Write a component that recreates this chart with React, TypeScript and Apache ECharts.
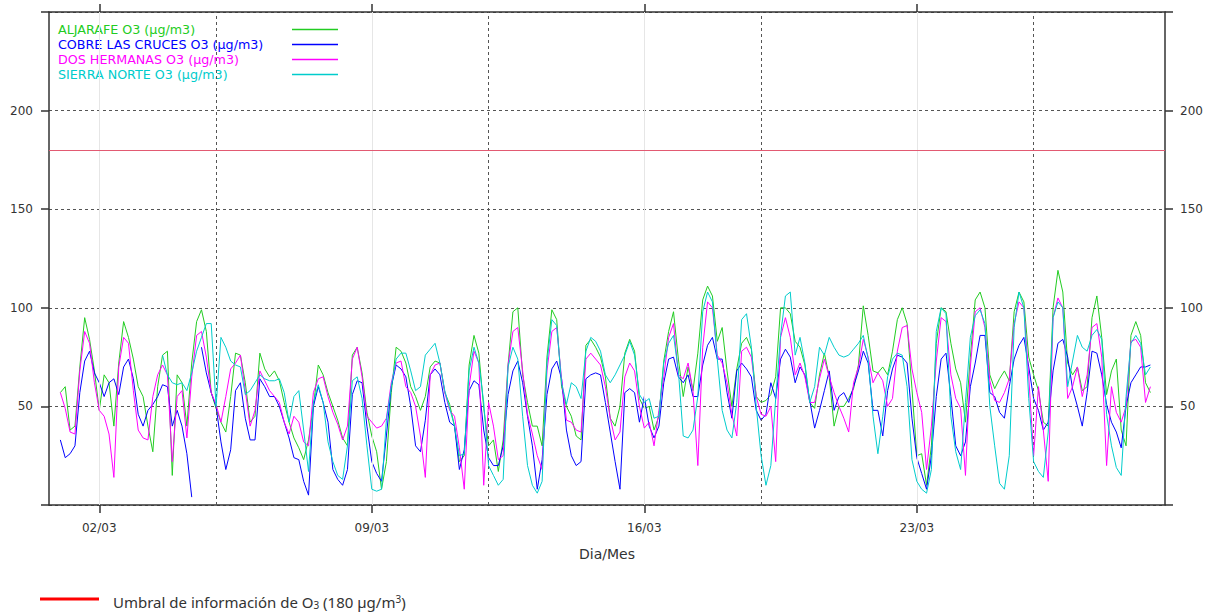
import React, { useEffect, useRef } from "react";
import * as echarts from "echarts";

// ---------- data ----------
const SERIES_NAMES = [
  "ALJARAFE O3 (µg/m3)",
  "COBRE LAS CRUCES O3 (µg/m3)",
  "DOS HERMANAS O3 (µg/m3)",
  "SIERRA NORTE O3 (µg/m3)",
];
const SERIES_COLORS = ["#22cc22", "#0000ff", "#ff00ff", "#00cccc"];

// hours counted from 01/03 00:00, one reading every 3 hours
const FIRST_HOUR = 0;
const STEP_HOURS = 3;
const MONTH = "03";

const aljarafe = [
  57, 60, 38, 40, 70, 95, 84, 68,
  48, 66, 62, 40, 72, 93, 85, 74,
  60, 55, 40, 27, 60, 76, 78, 15,
  66, 62, 40, 72, 93, 99, 88, 57,
  49, 42, 37, 55, 77, 76, 62, 42,
  45, 77, 69, 65, 68, 63, 52, 42,
  34, 29, 23, 33, 50, 71, 66, 57,
  50, 43, 34, 30, 76, 80, 67, 47,
  35, 27, 8, 22, 57, 80, 78, 72,
  60, 55, 48, 55, 70, 73, 72, 57,
  51, 40, 22, 25, 71, 86, 77, 49,
  30, 33, 17, 33, 71, 98, 100, 66,
  52, 40, 40, 30, 75, 99, 94, 60,
  50, 45, 35, 33, 81, 84, 80, 75,
  65, 44, 40, 50, 77, 84, 78, 54,
  49, 50, 38, 45, 73, 88, 98, 74,
  55, 70, 58, 77, 104, 111, 106, 83,
  90, 68, 50, 69, 82, 85, 79, 55,
  52, 53, 56, 65, 100, 100, 97, 83,
  80, 71, 52, 49, 66, 77, 65, 40,
  50, 50, 54, 59, 71, 101, 86, 68,
  67, 70, 66, 78, 94, 100, 92, 59,
  25, 26, 10, 30, 82, 100, 98, 82,
  69, 62, 42, 75, 104, 108, 100, 66,
  59, 64, 68, 63, 98, 108, 103, 75,
  66, 58, 42, 40, 100, 119, 108, 72,
  66, 70, 58, 60, 95, 106, 85, 56,
  68, 74, 38, 30, 86, 93, 86, 62,
  57,
];

const cobreLasCruces = [
  33, 24, 26, 30, 57, 73, 78, 67,
  62, 55, 62, 64, 56, 70, 74, 64,
  46, 40, 48, 51, 55, 61, 60, 40,
  48, 40, 26, 4, null, 80, 67, 57,
  50, 32, 18, 28, 58, 62, 44, 33,
  33, 64, 60, 55, 55, 50, 42, 34,
  24, 23, 12, 5, 50, 60, 52, 42,
  18, 13, 10, 18, 56, 63, 62, 40,
  22, 16, 12, 35, 60, 71, 69, 65,
  50, 30, 27, 43, 66, 69, 66, 52,
  42, 40, 18, 28, 58, 63, 61, 38,
  24, 20, 20, 30, 56, 68, 73, 62,
  45, 30, 8, 23, 56, 69, 73, 64,
  38, 25, 20, 22, 64, 66, 67, 66,
  52, 37, 22, 8, 57, 59, 57, 42,
  55, 40, 34, 40, 62, 74, 75, 65,
  62, 66, 55, 55, 71, 81, 85, 74,
  74, 57, 44, 68, 72, 69, 65, 48,
  43, 46, 62, 54, 74, 79, 75, 62,
  70, 66, 53, 39, 48, 58, 68, 48,
  55, 57, 52, 60, 68, 78, 72, 48,
  48, 35, 58, 69, 76, 75, 72, 44,
  24, 16, 8, 25, 55, 74, 77, 55,
  30, 25, 32, 60, 72, 86, 86, 57,
  55, 47, 44, 60, 74, 81, 85, 70,
  54, 48, 38, 42, 68, 82, 84, 75,
  59, 50, 40, 57, 78, 77, 66, 51,
  42, 37, 29, 50, 62, 66, 70, 70,
  71,
];

const dosHermanas = [
  57, 49, 37, 36, 68, 88, 82, 62,
  48, 45, 36, 14, 70, 85, 82, 58,
  38, 34, 33, 55, 66, 71, 66, 22,
  55, 58, 34, 65, 86, 88, 75, 57,
  51, 42, 55, 69, 72, 76, 58, 40,
  48, 68, 63, 58, 55, 52, 42, 36,
  45, 42, 32, 30, 57, 64, 65, 55,
  47, 41, 33, 40, 74, 80, 65, 45,
  42, 39, 40, 44, 62, 72, 73, 60,
  57, 50, 35, 14, 66, 71, 72, 57,
  48, 45, 29, 8, 60, 78, 72, 10,
  52, 40, 23, 25, 71, 88, 90, 68,
  46, 36, 25, 18, 68, 88, 90, 64,
  43, 42, 38, 37, 74, 77, 74, 71,
  60, 44, 33, 37, 65, 72, 68, 50,
  39, 42, 30, 48, 65, 85, 92, 66,
  64, 72, 58, 20, 80, 103, 100, 76,
  72, 62, 46, 35, 78, 80, 75, 55,
  46, 45, 50, 22, 85, 95, 85, 66,
  72, 65, 52, 52, 64, 74, 65, 57,
  50, 44, 37, 62, 70, 84, 75, 62,
  67, 63, 50, 54, 78, 90, 91, 69,
  57, 47, 18, 40, 73, 95, 93, 66,
  54, 49, 15, 70, 98, 100, 90, 63,
  53, 52, 57, 64, 92, 103, 100, 65,
  25, 60, 38, 12, 95, 105, 100, 54,
  60, 70, 55, 66, 90, 92, 75, 20,
  60, 47, 42, 50, 83, 84, 80, 52,
  60,
];

const sierraNorte = [
  null, null, null, null, null, null, null, null,
  null, null, null, null, null, null, null, null,
  null, null, null, null, null, 76, 66, 62,
  61, 62, 58, 67, 78, 85, 92, 92,
  50, 85, 80, 73, 71, 70, 56, 58,
  62, 66, 64, 63, 63, 64, 57, 42,
  55, 58, 38, 17, 52, 61, 52, 32,
  22, 15, 13, 30, 63, 65, 54, 30,
  8, 7, 8, 43, 60, 74, 77, 77,
  68, 58, 60, 76, 79, 82, 72, 58,
  49, 40, 25, 26, 68, 80, 72, 52,
  20, 15, 10, 13, 70, 80, 74, 45,
  20, 10, 6, 12, 72, 94, 91, 62,
  51, 62, 60, 54, 78, 85, 83, 78,
  66, 62, 66, 71, 76, 83, 76, 56,
  52, 54, 44, 45, 72, 82, 86, 68,
  35, 34, 38, 55, 98, 108, 103, 74,
  48, 38, 34, 52, 94, 97, 80, 50,
  25, 10, 20, 54, 86, 106, 108, 76,
  85, 72, 52, 60, 80, 76, 85, 80,
  76, 75, 76, 79, 82, 86, 74, 45,
  26, 45, 65, 74, 77, 76, 60, 23,
  12, 8, 6, 18, 88, 100, 97, 45,
  27, 18, 52, 85, 96, 99, 92, 50,
  30, 11, 8, 25, 90, 108, 100, 54,
  22, 17, 14, 37, 95, 103, 100, 60,
  73, 86, 80, 78, 86, 89, 84, 46,
  30, 19, 15, 55, 82, 86, 82, 66,
  70,
];

const SERIES_VALUES = [aljarafe, cobreLasCruces, dosHermanas, sierraNorte];

const DAY_LABEL_HOURS = [24, 192, 360, 528]; // 02/03, 09/03, 16/03, 23/03
const WEEK_LINE_HOURS = [96, 264, 432, 600]; // 05/03, 12/03, 19/03, 26/03
const X_MIN = -7;
const X_MAX = 681;
const Y_MIN = 0;
const Y_MAX = 250;
const Y_STEP = 50;
const THRESHOLD = 180;

const X_AXIS_NAME = "Dia/Mes";

// ---------- styling ----------
const AXIS_COLOR = "#333333";
const LABEL_FONT = "DejaVu Sans";

function hourToLabel(h: number): string {
  const day = Math.floor(h / 24) + 1;
  return `${day < 10 ? "0" + day : day}/${MONTH}`;
}

function yLabel(v: number): string {
  return v === Y_MIN || v === Y_MAX ? "" : String(v);
}

function buildOption() {
  const axisLine = { show: true, onZero: false, lineStyle: { color: AXIS_COLOR, width: 1.5 } };
  const axisTick = { show: true, inside: false, length: 8, lineStyle: { color: AXIS_COLOR, width: 1.5 } };
  const labelStyle = { color: "#333333", fontSize: 12, fontFamily: LABEL_FONT };

  const dataSeries = SERIES_VALUES.map((vals, i) => ({
    type: "line",
    name: SERIES_NAMES[i],
    data: vals.map((v, k) => [FIRST_HOUR + k * STEP_HOURS, v === null ? "-" : v]),
    showSymbol: false,
    symbol: "none",
    connectNulls: false,
    z: 3 + i,
    lineStyle: { color: SERIES_COLORS[i], width: 1 },
    itemStyle: { color: SERIES_COLORS[i] },
    silent: true,
  }));

  const gridSeries = {
    type: "line",
    name: "grid-helper",
    data: [],
    z: 1,
    silent: true,
    markLine: {
      silent: true,
      symbol: ["none", "none"],
      label: { show: false },
      animation: false,
      data: [
        ...DAY_LABEL_HOURS.map((h) => ({ xAxis: h, lineStyle: { color: "#e6e6e6", width: 1, type: "solid" } })),
        ...WEEK_LINE_HOURS.map((h) => ({ xAxis: h, lineStyle: { color: "#555555", width: 1, type: [3, 3] } })),
        { yAxis: THRESHOLD, lineStyle: { color: "#e25a72", width: 1, type: "solid" } },
      ],
    },
  };

  const legendGraphics: any[] = [];
  SERIES_NAMES.forEach((name, i) => {
    const cy = 29.5 + i * 15;
    legendGraphics.push({
      type: "text",
      x: 58,
      y: cy,
      silent: true,
      style: {
        text: name,
        fill: SERIES_COLORS[i],
        fontSize: 12.7,
        fontFamily: LABEL_FONT,
        align: "left",
        verticalAlign: "middle",
      },
    });
    legendGraphics.push({
      type: "line",
      silent: true,
      shape: { x1: 292, y1: cy, x2: 338, y2: cy },
      style: { stroke: SERIES_COLORS[i], lineWidth: 1.5 },
    });
  });

  const thresholdLegend = [
    {
      type: "line",
      silent: true,
      shape: { x1: 40, y1: 599, x2: 99, y2: 599 },
      style: { stroke: "#ff0000", lineWidth: 3 },
    },
    {
      type: "text",
      x: 113,
      y: 602,
      silent: true,
      style: {
        text: "{n|Umbral de información de O}{s|3}{n| (180 µg/m}{p|3}{n|)}",
        fill: "#333333",
        fontSize: 15,
        fontFamily: "Noto Sans",
        align: "left",
        verticalAlign: "middle",
        rich: {
          n: { fontSize: 15, fontFamily: "Noto Sans", fill: "#333333", lineHeight: 22, verticalAlign: "middle" },
          s: { fontSize: 10, fontFamily: "Noto Sans", fill: "#333333", lineHeight: 22, verticalAlign: "bottom", padding: [0, 0, 3, 0] },
          p: { fontSize: 10, fontFamily: "Noto Sans", fill: "#333333", lineHeight: 22, verticalAlign: "top", padding: [3, 0, 0, 0] },
        },
      },
    },
  ];

  return {
    animation: false,
    backgroundColor: "#ffffff",
    grid: { left: 49, right: 46, top: 12, bottom: 111, containLabel: false },
    xAxis: [
      {
        type: "value",
        position: "bottom",
        min: X_MIN,
        max: X_MAX,
        name: X_AXIS_NAME,
        nameLocation: "middle",
        nameGap: 42,
        nameTextStyle: { color: "#333333", fontSize: 14, fontFamily: LABEL_FONT },
        axisLine,
        axisTick: { ...axisTick, customValues: DAY_LABEL_HOURS },
        axisLabel: { ...labelStyle, margin: 17, customValues: DAY_LABEL_HOURS, formatter: (v: number) => hourToLabel(v) },
        splitLine: { show: false },
      },
      {
        type: "value",
        position: "top",
        min: X_MIN,
        max: X_MAX,
        axisLine,
        axisTick: { ...axisTick, customValues: DAY_LABEL_HOURS },
        axisLabel: { show: false },
        splitLine: { show: false },
      },
    ],
    yAxis: [
      {
        type: "value",
        position: "left",
        min: Y_MIN,
        max: Y_MAX,
        interval: Y_STEP,
        axisLine,
        axisTick,
        axisLabel: { ...labelStyle, margin: 16, formatter: yLabel },
        splitLine: { show: true, lineStyle: { color: "#555555", width: 1, type: [3, 3] } },
      },
      {
        type: "value",
        position: "right",
        min: Y_MIN,
        max: Y_MAX,
        interval: Y_STEP,
        axisLine,
        axisTick,
        axisLabel: { ...labelStyle, margin: 15, formatter: yLabel },
        splitLine: { show: false },
      },
    ],
    tooltip: { show: false },
    series: [gridSeries, ...dataSeries],
    graphic: [...legendGraphics, ...thresholdLegend],
  };
}

export default function App() {
  const ref = useRef<HTMLDivElement>(null);
  useEffect(() => {
    if (!ref.current) return;
    const prevMargin = document.body.style.margin;
    document.body.style.margin = "0";
    const chart = echarts.init(ref.current, null, { renderer: "svg", width: 1211, height: 616 });
    chart.setOption(buildOption() as any);
    return () => {
      chart.dispose();
      document.body.style.margin = prevMargin;
    };
  }, []);
  return <div ref={ref} style={{ width: 1211, height: 616, background: "#ffffff" }} />;
}
